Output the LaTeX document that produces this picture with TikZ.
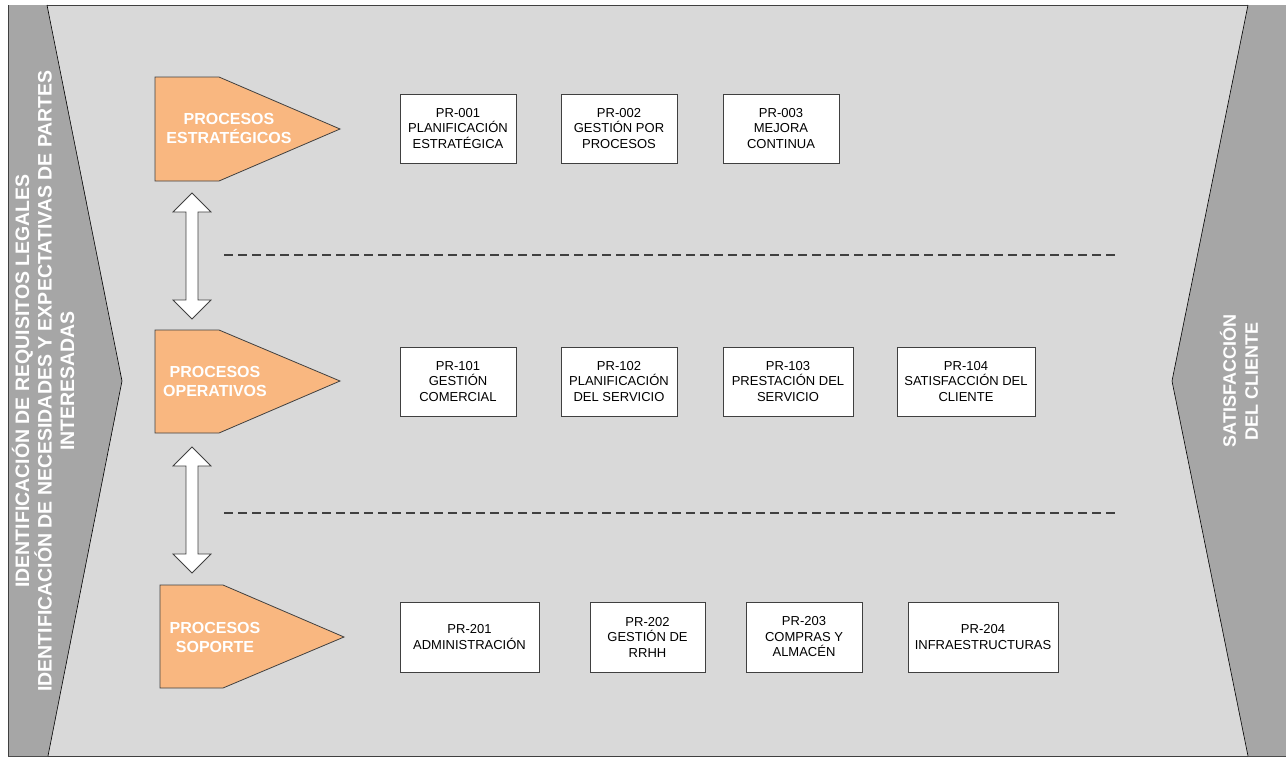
\documentclass[tikz,border=0pt]{standalone}
\usepackage{fontspec}
\setmainfont{Liberation Sans}
\usepackage{tikz}

\definecolor{fondo}{HTML}{D9D9D9}
\definecolor{banda}{HTML}{A6A6A6}
\definecolor{naranja}{HTML}{F9B780}
\definecolor{borde}{HTML}{404040}

\begin{document}
\begin{tikzpicture}[x=1pt, y=-1pt,
    procbox/.style={draw=borde, fill=white, line width=0.8pt, align=center, inner sep=0pt,
        font=\fontsize{13}{15.5}\selectfont, minimum height=69pt},
    tipo/.style={text=white, align=center, font=\bfseries\fontsize{16}{19}\selectfont},
    banner/.style={text=white, align=center, rotate=90, font=\bfseries\fontsize{18}{22}\selectfont},
    separa/.style={draw=borde, line width=1.6pt, dash pattern=on 9pt off 5pt}]
    \useasboundingbox (0,0) rectangle (1286,756);
    % Background and side bands
    \draw[fill=fondo, draw=borde, line width=0.8pt] (8,5) rectangle (1286,756);
    \draw[fill=banda, draw=none] (8,5) -- (47,5) -- (122,381) -- (48,756) -- (8,756) -- cycle;
    \draw[black, line width=0.6pt] (47,5) -- (122,381) -- (48,756);
    \draw[fill=banda, draw=none] (1286,5) -- (1248,5) -- (1172,381) -- (1248,756) -- (1286,756) -- cycle;
    \draw[black, line width=0.6pt] (1248,5) -- (1172,381) -- (1248,756);
    \draw[borde, line width=0.8pt] (8,5) -- (8,756);
    \node[banner, font=\bfseries\fontsize{19.5}{22.5}\selectfont] (entrada) at (43,381) {IDENTIFICACIÓN DE REQUISITOS LEGALES\\IDENTIFICACIÓN DE NECESIDADES Y EXPECTATIVAS DE PARTES\\INTERESADAS};
    \node[banner] (salida) at (1239,381) {SATISFACCIÓN\\DEL CLIENTE};
    % Process types
    \draw[fill=naranja, draw=borde, line width=0.8pt] (155,77) -- (219,77) -- (340,129) -- (219,181) -- (155,181) -- cycle;
    \draw[fill=naranja, draw=borde, line width=0.8pt] (155,330) -- (219,330) -- (340,381) -- (219,433) -- (155,433) -- cycle;
    \draw[fill=naranja, draw=borde, line width=0.8pt] (160,585) -- (223,585) -- (344,637) -- (223,688) -- (160,688) -- cycle;
    \node[tipo] (estrat) at (229,128) {PROCESOS\\ESTRATÉGICOS};
    \node[tipo] (opera) at (215,381) {PROCESOS\\OPERATIVOS};
    \node[tipo] (soporte) at (215,637) {PROCESOS\\SOPORTE};
    % Double arrows between levels
    \foreach \yc in {256,510} {
        \draw[fill=white, draw=borde, line width=0.8pt, line join=miter]
            (192,\yc-63) -- (211,\yc-44) -- (198,\yc-44) -- (198,\yc+44) -- (211,\yc+44)
            -- (192,\yc+63) -- (173,\yc+44) -- (186,\yc+44) -- (186,\yc-44) -- (173,\yc-44) -- cycle;
    }
    % Separators
    \draw[separa] (224,255) -- (1117,255);
    \draw[separa] (224,513) -- (1117,513);
    % Strategic processes
    \node[procbox, minimum width=116pt] (pr001) at (458,128.5) {PR-001\\PLANIFICACIÓN\\ESTRATÉGICA};
    \node[procbox, minimum width=116pt] (pr002) at (619,128.5) {PR-002\\GESTIÓN POR\\PROCESOS};
    \node[procbox, minimum width=116pt] (pr003) at (781,128.5) {PR-003\\MEJORA\\CONTINUA};
    % Operative processes
    \node[procbox, minimum width=116pt] (pr101) at (458,381.5) {PR-101\\GESTIÓN\\COMERCIAL};
    \node[procbox, minimum width=116pt] (pr102) at (619,381.5) {PR-102\\PLANIFICACIÓN\\DEL SERVICIO};
    \node[procbox, minimum width=130pt] (pr103) at (788,381.5) {PR-103\\PRESTACIÓN DEL\\SERVICIO};
    \node[procbox, minimum width=138pt] (pr104) at (966,381.5) {PR-104\\SATISFACCIÓN DEL\\CLIENTE};
    % Support processes
    \node[procbox, minimum width=139pt, minimum height=70pt] (pr201) at (469.5,637) {PR-201\\ADMINISTRACIÓN};
    \node[procbox, minimum width=115pt, minimum height=70pt] (pr202) at (647.5,637) {PR-202\\GESTIÓN DE\\RRHH};
    \node[procbox, minimum width=116pt, minimum height=70pt] (pr203) at (804,637) {PR-203\\COMPRAS Y\\ALMACÉN};
    \node[procbox, minimum width=150pt, minimum height=70pt] (pr204) at (983,637) {PR-204\\INFRAESTRUCTURAS};
\end{tikzpicture}
\end{document}
